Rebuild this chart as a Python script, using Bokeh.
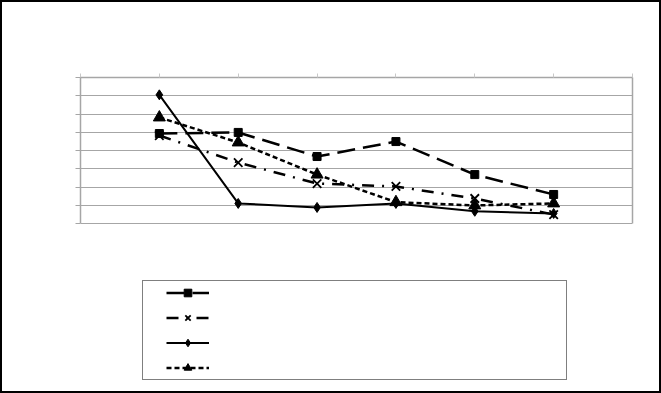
from bokeh.plotting import figure
from bokeh.models import Range1d, LinearAxis, FixedTicker, Legend, LegendItem, Grid
from bokeh.embed import file_html
from bokeh.resources import INLINE

x = [1, 2, 3, 4, 5, 6]
s_square = [4.93, 4.99, 3.67, 4.49, 2.68, 1.59]
s_cross = [4.82, 3.34, 2.19, 2.03, 1.37, 0.49]
s_diamond = [7.05, 1.10, 0.88, 1.10, 0.67, 0.55]
s_triangle = [5.81, 4.44, 2.68, 1.17, 0.99, 1.10]
y_ticks = [0, 1, 2, 3, 4, 5, 6, 7, 8]
x_ticks = [0, 1, 2, 3, 4, 5, 6, 7]

Y_MAX = 8
TOP, PLOT_H, H = 77, 146, 393
y_start = Y_MAX - Y_MAX * (H - TOP) / PLOT_H   # frame extends down to hold the legend

p = figure(width=661, height=H, output_backend="svg", toolbar_location=None,
           x_range=Range1d(0, 7), y_range=Range1d(y_start, Y_MAX),
           min_border_left=80, min_border_right=29, min_border_top=TOP, min_border_bottom=0,
           x_axis_location=None, y_axis_location=None)
# drop the default grids (they belong to axes that are not shown)
p.center = [r for r in p.center if not isinstance(r, Grid)]
p.border_fill_color = None
p.background_fill_color = None
p.styles = {"box-shadow": "inset 0 0 0 2px black", "background-color": "white"}
p.outline_line_color = None

grid = Grid(dimension=1, ticker=FixedTicker(ticks=y_ticks), grid_line_color="#a6a6a6", grid_line_width=1.2)
p.add_layout(grid)

yax = LinearAxis(ticker=FixedTicker(ticks=y_ticks), bounds=(0, Y_MAX), axis_line_color="#a6a6a6",
                 axis_line_width=1.5, major_tick_line_color="#a6a6a6", major_tick_out=5, major_tick_in=0,
                 minor_tick_line_color=None, major_label_text_font_size="0px")
p.add_layout(yax, "left")
yax_r = LinearAxis(ticker=FixedTicker(ticks=[]), bounds=(0, Y_MAX), axis_line_color="#a6a6a6",
                   axis_line_width=1.5, major_tick_line_color=None, minor_tick_line_color=None,
                   major_label_text_font_size="0px")
p.add_layout(yax_r, "right")
xax = LinearAxis(ticker=FixedTicker(ticks=x_ticks), axis_line_color="#a6a6a6", axis_line_width=1.5,
                 major_tick_line_color="#c8c8c8", major_tick_out=4, major_tick_in=0,
                 minor_tick_line_color=None, major_label_text_font_size="0px")
p.add_layout(xax, "above")

l1 = p.line(x, s_square, line_color="black", line_width=2.5, line_dash="18 8")
m1 = p.scatter(x, s_square, marker="square", size=8, color="black")
l2 = p.line(x, s_cross, line_color="black", line_width=2.5, line_dash="12 8 2 8")
m2 = p.scatter(x, s_cross, marker="x", size=12, line_color="black", line_width=1.8)
l3 = p.line(x, s_diamond, line_color="black", line_width=2)
m3 = p.scatter(x, s_diamond, marker="diamond", size=10, color="black")
l4 = p.line(x, s_triangle, line_color="black", line_width=2.5, line_dash="5 3")
m4 = p.scatter(x, s_triangle, marker="triangle", size=12, color="black")

legend = Legend(items=[LegendItem(label=" ", renderers=[l1, m1]),
                       LegendItem(label=" ", renderers=[l2, m2]),
                       LegendItem(label=" ", renderers=[l3, m3]),
                       LegendItem(label=" ", renderers=[l4, m4])],
                location=(62, 13), orientation="vertical", padding=2, spacing=6,
                glyph_height=19, label_height=19, glyph_width=43, label_width=350,
                label_standoff=5, label_text_font_size="9px",
                border_line_color="black", border_line_width=1.5, background_fill_alpha=1,
                title=" ", title_location="left", title_text_font_size="13px", title_standoff=6,
                margin=0)
p.add_layout(legend)

open("out.html", "w").write(file_html(p, INLINE))
